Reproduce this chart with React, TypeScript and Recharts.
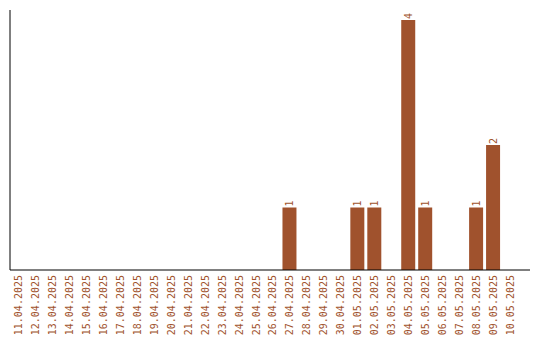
import { Bar, BarChart, LabelList, XAxis, YAxis } from "recharts";

const dates = [
  "11.04.2025", "12.04.2025", "13.04.2025", "14.04.2025", "15.04.2025",
  "16.04.2025", "17.04.2025", "18.04.2025", "19.04.2025", "20.04.2025",
  "21.04.2025", "22.04.2025", "23.04.2025", "24.04.2025", "25.04.2025",
  "26.04.2025", "27.04.2025", "28.04.2025", "29.04.2025", "30.04.2025",
  "01.05.2025", "02.05.2025", "03.05.2025", "04.05.2025", "05.05.2025",
  "06.05.2025", "07.05.2025", "08.05.2025", "09.05.2025", "10.05.2025"
];
const counts = [
  0, 0, 0, 0, 0, 0, 0, 0, 0, 0,
  0, 0, 0, 0, 0, 0, 1, 0, 0, 0,
  1, 1, 0, 4, 1, 0, 0, 1, 2, 0
];

const COLOR = "#a0522d";
const FONT = "'DejaVu Sans Mono', monospace";

function DateTick({ x, y, payload }: any) {
  return (
    <text
      transform={`translate(${x},${y - 3}) rotate(-90)`}
      textAnchor="end"
      dy={3.5}
      fill={COLOR}
      fontFamily={FONT}
      fontSize={10}
    >
      {payload.value}
    </text>
  );
}

function TopLabel({ x, y, width, value }: any) {
  if (!value) return null;
  return (
    <text
      transform={`translate(${x + width / 2},${y - 1}) rotate(-90)`}
      textAnchor="start"
      dy={3.5}
      fill={COLOR}
      fontFamily={FONT}
      fontSize={10}
    >
      {value}
    </text>
  );
}

export default function App() {
  const data = dates.map((d, i) => ({ date: d, count: counts[i] }));
  return (
    <BarChart width={532} height={332} data={data} margin={{ top: 2, right: 10, bottom: 0, left: 0 }}>
      <XAxis
        dataKey="date"
        interval={0}
        height={70}
        tick={<DateTick />}
        tickLine={false}
        axisLine={{ stroke: "#000" }}
        padding={{ left: 0, right: 11 }}
      />
      <YAxis width={2} domain={[0, 4]} tick={false} tickLine={false} axisLine={{ stroke: "#000" }} padding={{ top: 10, bottom: 0 }} />
      <Bar dataKey="count" fill={COLOR} barSize={14} isAnimationActive={false}>
        <LabelList dataKey="count" content={<TopLabel />} />
      </Bar>
    </BarChart>
  );
}
